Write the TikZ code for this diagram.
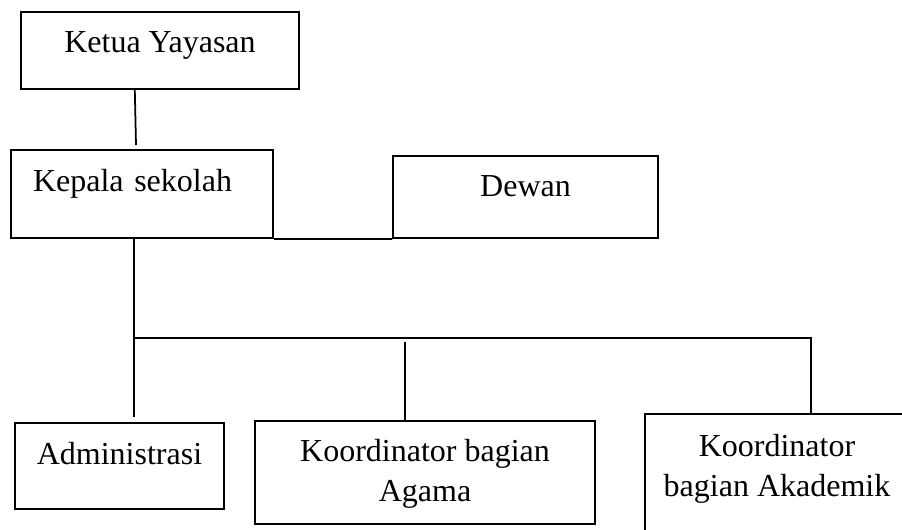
\documentclass[tikz,border=0pt]{standalone}
\usepackage{fontspec}
\setmainfont{Liberation Serif}
\usetikzlibrary{calc}

\begin{document}
\begin{tikzpicture}[x=0.4pt, y=-0.4pt,
                unit/.style={draw, line width=0.8pt, inner sep=0pt, text height=16.4pt,
                        align=center, font=\fontsize{12.8}{16}\selectfont, anchor=north west},
                link/.style={line width=0.7pt}]
                \def\KY{Ketua Yayasan}
                \def\KS{Kepala sekolah}
                \def\DW{Dewan}
                \def\AD{Administrasi}
                \def\AG{Koordinator bagian\\Agama}
                \def\AK{Koordinator\\bagian Akademik}
                \useasboundingbox (0,0) rectangle (902,529);
                \node[unit, minimum width=111.2pt, text depth=14.4pt] (ketua) at (20,10.7) {\KY};
                \node[unit, text width=87.2pt, inner xsep=8.8pt, align=left, text depth=18.8pt] (kepala) at (10,149) {\KS};
                \node[unit, minimum width=106pt, text height=16pt, text depth=16.8pt] (dewan) at (392,155) {\DW};
                \node[unit, minimum width=83.6pt, text depth=18pt] (admin) at (14,422) {\AD};
                \node[unit, minimum width=136pt, text height=32pt, text depth=9.2pt] (agama) at (254,420) {\AG};
                \node[unit, minimum width=105.6pt, text height=32.8pt, text depth=18pt] (akademik) at (644,413) {\AK};
                \coordinate (busL) at (134,338);
                \coordinate (busM) at (405,338);
                \coordinate (busR) at (811,338);
                \draw[link] ($(ketua.south west)!0.41!(ketua.south east)$) -- ($(kepala.north west)+(126,-4)$);
                \draw[link] (kepala.south east) -- (dewan.south west);
                \draw[link] (busL |- kepala.south) -- (busL) -- (busR) -- (busR |- akademik.north);
                \draw[link] (busL) -- ($(busL |- admin.north)+(0,-5)$);
                \draw[link] ($(busM)+(0,4)$) -- (busM |- agama.north);
\end{tikzpicture}
\end{document}
